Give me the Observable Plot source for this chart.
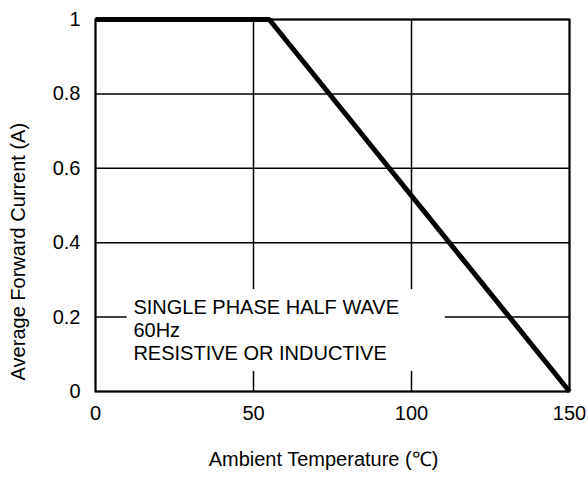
<!DOCTYPE html>
<html><head><meta charset="utf-8">
<script src="https://cdn.jsdelivr.net/npm/d3@7"></script>
<script src="https://cdn.jsdelivr.net/npm/@observablehq/plot@0.6"></script>
<style>
html,body{margin:0;padding:0;background:#fff;}
svg{font-family:"Liberation Sans",Arial,sans-serif;}
</style></head>
<body><div id="chart"></div>
<script>
const tempC = [0, 55, 150];
const currentA = [1, 1, 0];
const xTicks = [0, 50, 100, 150];
const yTicks = [0, 0.2, 0.4, 0.6, 0.8, 1];
const xLabel = "Ambient Temperature (℃)";
const yLabel = "Average Forward Current (A)";
const noteLines = ["SINGLE PHASE HALF WAVE", "60Hz", "RESISTIVE OR INDUCTIVE"];
const noteBox = [{x1: 10, x2: 110.7, y1: 0.054, y2: 0.274}];
const noteAt = [{x: 12, y: 0.166}];
const yLabelAt = [{x: 0, y: 0.376}];

const curve = tempC.map((t, i) => ({t, a: currentA[i]}));
const FS = 20;

const chart = Plot.plot({
  width: 588,
  height: 477,
  marginLeft: 95,
  marginRight: 19,
  marginTop: 19,
  marginBottom: 86,
  style: {fontFamily: '"Liberation Sans", Arial, sans-serif', fontSize: FS + "px", color: "#000", background: "#fff"},
  x: {domain: [0, 150]},
  y: {domain: [0, 1]},
  marks: [
    Plot.gridX(xTicks, {stroke: "#000", strokeOpacity: 1, strokeWidth: 1.5}),
    Plot.gridY(yTicks, {stroke: "#000", strokeOpacity: 1, strokeWidth: 1.5}),
    Plot.rect(noteBox, {x1: "x1", x2: "x2", y1: "y1", y2: "y2", fill: "#fff"}),
    Plot.text(noteAt, {x: "x", y: "y", text: () => noteLines.join("\n"), textAnchor: "start", lineAnchor: "middle", lineHeight: 1.13, fontSize: FS, fill: "#000"}),
    Plot.frame({stroke: "#000", strokeWidth: 2}),
    Plot.axisX(xTicks, {tickSize: 0, tickPadding: 14, fontSize: FS, label: null}),
    Plot.axisY(yTicks, {tickSize: 0, tickPadding: 15, fontSize: FS, label: null, tickFormat: d => d3.format("~g")(d)}),
    Plot.line(curve, {x: "t", y: "a", stroke: "#000", strokeWidth: 5, strokeLinejoin: "miter", strokeLinecap: "butt"}),
    Plot.text([xLabel], {frameAnchor: "bottom", text: d => d, dx: -9, dy: 74, fontSize: FS, fill: "#000"}),
    Plot.text(yLabelAt, {x: "x", y: "y", text: () => yLabel, rotate: -90, dx: -77, fontSize: FS, fill: "#000"})
  ]
});
document.getElementById("chart").append(chart);
</script></body></html>
